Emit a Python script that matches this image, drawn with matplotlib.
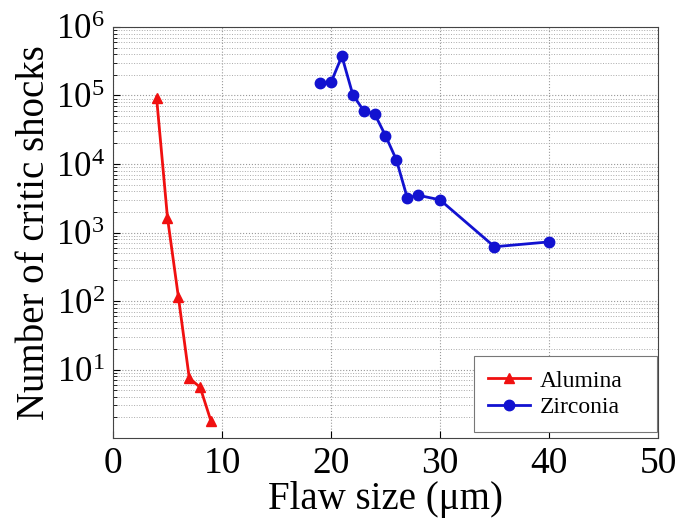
import numpy as np
import matplotlib.pyplot as plt
from matplotlib.ticker import LogLocator, NullFormatter

plt.rcParams['font.family'] = 'Liberation Serif'
plt.rcParams['mathtext.fontset'] = 'custom'
plt.rcParams['mathtext.rm'] = 'Liberation Serif'
plt.rcParams['mathtext.it'] = 'Liberation Serif:italic'

# dados
alumina_x = [4, 5, 6, 7, 8, 9]
alumina_y = [9.3e4, 1.65e3, 115, 7.5, 5.5, 1.75]

zirconia_x = [19, 20, 21, 22, 23, 24, 25, 26, 27, 28, 30, 35, 40]
zirconia_y = [1.5e5, 1.55e5, 3.75e5, 1.03e5, 6.0e4, 5.4e4, 2.6e4, 1.15e4,
              3.2e3, 3.5e3, 3.0e3, 620, 730]

x_ticks = [0, 10, 20, 30, 40, 50]
y_ticks = [1e1, 1e2, 1e3, 1e4, 1e5, 1e6]

fig = plt.figure(figsize=(6.83, 5.24), dpi=100)
ax = fig.add_axes([0.1654, 0.164, 0.798, 0.7845])

ax.semilogy(alumina_x, alumina_y, '-^', color='#f01010', lw=2, ms=7, label='Alumina')
ax.semilogy(zirconia_x, zirconia_y, '-o', color='#1212d0', lw=2, ms=7.5, label='Zirconia')

ax.set_xlim(0, 50)
ax.set_ylim(1, 1e6)
ax.set_xticks(x_ticks)
ax.set_yticks(y_ticks)
ax.set_yticklabels([r'$10^{%d}$' % int(np.log10(v)) for v in y_ticks])
ax.yaxis.set_minor_locator(LogLocator(base=10, subs=np.arange(2, 10), numticks=100))
ax.yaxis.set_minor_formatter(NullFormatter())

ax.grid(True, which='major', ls=':', color='#999999', lw=0.8)
ax.grid(True, which='minor', axis='y', ls=':', color='#aaaaaa', lw=0.7)

ax.tick_params(axis='y', which='major', labelsize=25, direction='in', length=5, width=0.8)
ax.tick_params(axis='x', which='major', labelsize=27, direction='in', length=5, width=0.8)
ax.tick_params(axis='y', which='minor', direction='in', length=3, width=0.6)
ax.tick_params(axis='both', pad=6)
for s in ax.spines.values():
    s.set_color('#444444')
    s.set_linewidth(0.8)

ax.set_xlabel('Flaw size (μm)', fontsize=28, labelpad=0)
ax.set_ylabel('Number of critic shocks', fontsize=28, labelpad=2)

leg = ax.legend(loc='lower left', bbox_to_anchor=(0.662, 0.0146, 0.336, 0.172),
                mode='expand', fontsize=17, fancybox=False, edgecolor='#777777',
                handlelength=1.8, handletextpad=0.4, borderaxespad=0,
                borderpad=0.6, framealpha=1, labelspacing=0.2)
leg.get_frame().set_linewidth(0.8)

fig.savefig('out.png', dpi=100)
